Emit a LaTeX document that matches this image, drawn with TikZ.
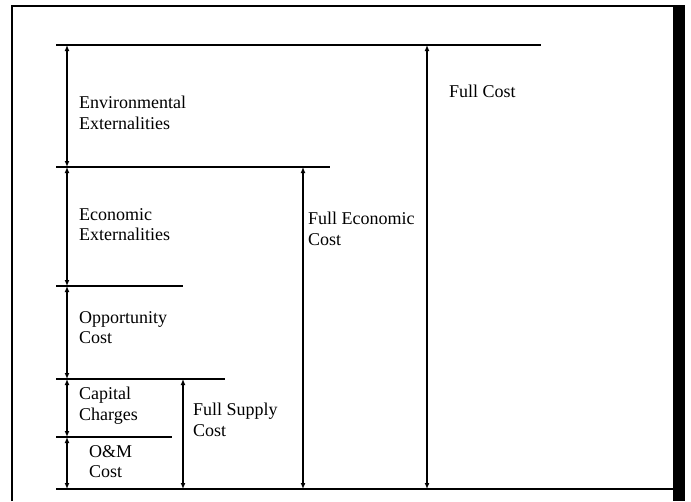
\documentclass[tikz,border=0pt]{standalone}
\usepackage{fontspec}
\setmainfont{Liberation Serif}
\usetikzlibrary{arrows.meta}
\begin{document}
\begin{tikzpicture}[x=1pt,y=-1pt,
  lvlthick/.style={line width=2.8pt},
  lvlthin/.style={line width=1.6pt},
  dim/.style={line width=1.2pt,{Latex[length=6pt,width=5pt]}-{Latex[length=6pt,width=5pt]}},
  lbl/.style={anchor=north west,inner sep=0pt,align=left,font=\fontsize{18}{20.5}\selectfont}]
\useasboundingbox (0,0) rectangle (691,501);
% frame
\draw[line width=2.2pt] (12,501) -- (12,6) -- (674,6);
\fill (673,5) rectangle (685,501);
% level coordinates
\coordinate (tL) at (56,45);  \coordinate (tR) at (541,45);
\coordinate (eL) at (56,167); \coordinate (eR) at (330,167);
\coordinate (oL) at (56,286); \coordinate (oR) at (183,286);
\coordinate (cL) at (56,379); \coordinate (cR) at (225,379);
\coordinate (mL) at (56,437); \coordinate (mR) at (172,437);
\coordinate (bL) at (56,489); \coordinate (bR) at (674,489);
\draw[lvlthick] (tL) -- (tR);
\draw[lvlthick] (eL) -- (eR);
\draw[lvlthin] (oL) -- (oR);
\draw[lvlthick] (cL) -- (cR);
\draw[lvlthin] (mL) -- (mR);
\draw[lvlthick] (bL) -- (bR);
% arrow end points
\coordinate (a0) at (67,45);
\coordinate (a1) at (67,167);
\coordinate (a2) at (67,286);
\coordinate (a3) at (67,379);
\coordinate (a4) at (67,437);
\coordinate (a5) at (67,489);
\draw[dim] (a0) -- (a1);
\draw[dim] (a1) -- (a2);
\draw[dim] (a2) -- (a3);
\draw[dim] (a3) -- (a4);
\draw[dim] (a4) -- (a5);
\coordinate (fsT) at (183,379); \coordinate (fsB) at (183,489);
\coordinate (feT) at (303,167); \coordinate (feB) at (303,489);
\coordinate (fcT) at (427,45);  \coordinate (fcB) at (427,489);
\draw[dim] (fsT) -- (fsB);
\draw[dim] (feT) -- (feB);
\draw[dim] (fcT) -- (fcB);
% labels
\node[lbl] (env) at (79,96) {Environmental\\Externalities};
\node[lbl] (eco) at (79,208) {Economic\\Externalities};
\node[lbl] (opp) at (79,311) {Opportunity\\Cost};
\node[lbl] (cap) at (79,387) {Capital\\Charges};
\node[lbl] (om) at (89,445) {O\&M\\Cost};
\node[lbl] (fsc) at (193,403) {Full Supply\\Cost};
\node[lbl] (fec) at (308,212) {Full Economic\\Cost};
\node[lbl] (fc) at (449,85) {Full Cost};
\end{tikzpicture}
\end{document}
